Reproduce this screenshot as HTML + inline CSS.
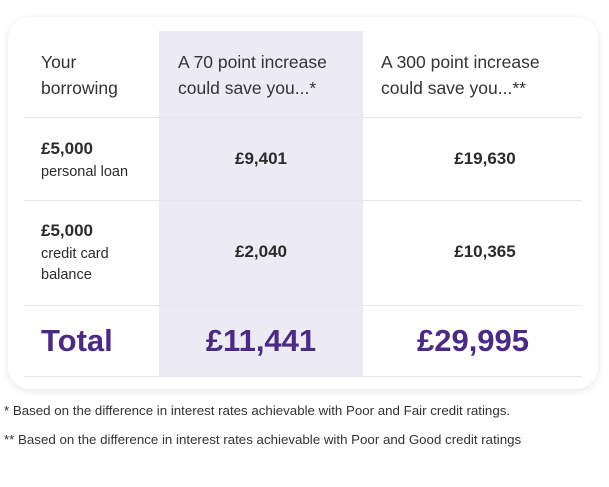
<!DOCTYPE html>
<html><head><meta charset="utf-8"><style>
body{margin:0;width:609px;height:487px;background:#fff;font-family:"Liberation Sans",sans-serif;color:#2b2b2b;position:relative;overflow:hidden}
.a{position:absolute;white-space:nowrap}
.card{position:absolute;left:8px;top:17px;width:590px;height:372px;border-radius:22px;background:#fff;box-shadow:0 2px 8px rgba(0,0,0,0.10)}
.hl{position:absolute;left:159px;top:31px;width:204px;height:345px;background:#ecebf3}
.ln{position:absolute;left:24px;width:558px;height:1px;background:#e6e6ea}
.h{font-size:17.5px;line-height:26px;color:#333}
.b{font-weight:bold;font-size:17px}
.s{font-size:14.5px;line-height:21px}
.v{font-weight:bold;font-size:17px;text-align:center;width:204px}
.t{font-weight:bold;font-size:31px;color:#4a2a86}
.f{font-size:13.3px;color:#333}
</style></head><body>
<div class="card"></div>
<div class="hl"></div>
<div class="ln" style="top:117px"></div>
<div class="ln" style="top:200px"></div>
<div class="ln" style="top:305px"></div>
<div class="ln" style="top:376px"></div>

<div class="a h" style="left:41px;top:49px">Your<br>borrowing</div>
<div class="a h" style="left:178px;top:49px">A 70 point increase<br>could save you...*</div>
<div class="a h" style="left:381px;top:49px">A 300 point increase<br>could save you...**</div>

<div class="a b" style="left:41px;top:139px">£5,000</div>
<div class="a s" style="left:41px;top:162px">personal loan</div>
<div class="a v" style="left:159px;top:149px">£9,401</div>
<div class="a v" style="left:383px;top:149px">£19,630</div>

<div class="a b" style="left:41px;top:221px">£5,000</div>
<div class="a s" style="left:41px;top:244px">credit card<br>balance</div>
<div class="a v" style="left:159px;top:242px">£2,040</div>
<div class="a v" style="left:383px;top:242px">£10,365</div>

<div class="a t" style="left:41px;top:323px">Total</div>
<div class="a t v" style="left:159px;top:323px;font-size:31px">£11,441</div>
<div class="a t v" style="left:371px;top:323px;font-size:31px">£29,995</div>

<div class="a f" style="left:4px;top:403px">* Based on the difference in interest rates achievable with Poor and Fair credit ratings.</div>
<div class="a f" style="left:4px;top:432px">** Based on the difference in interest rates achievable with Poor and Good credit ratings</div>
</body></html>
